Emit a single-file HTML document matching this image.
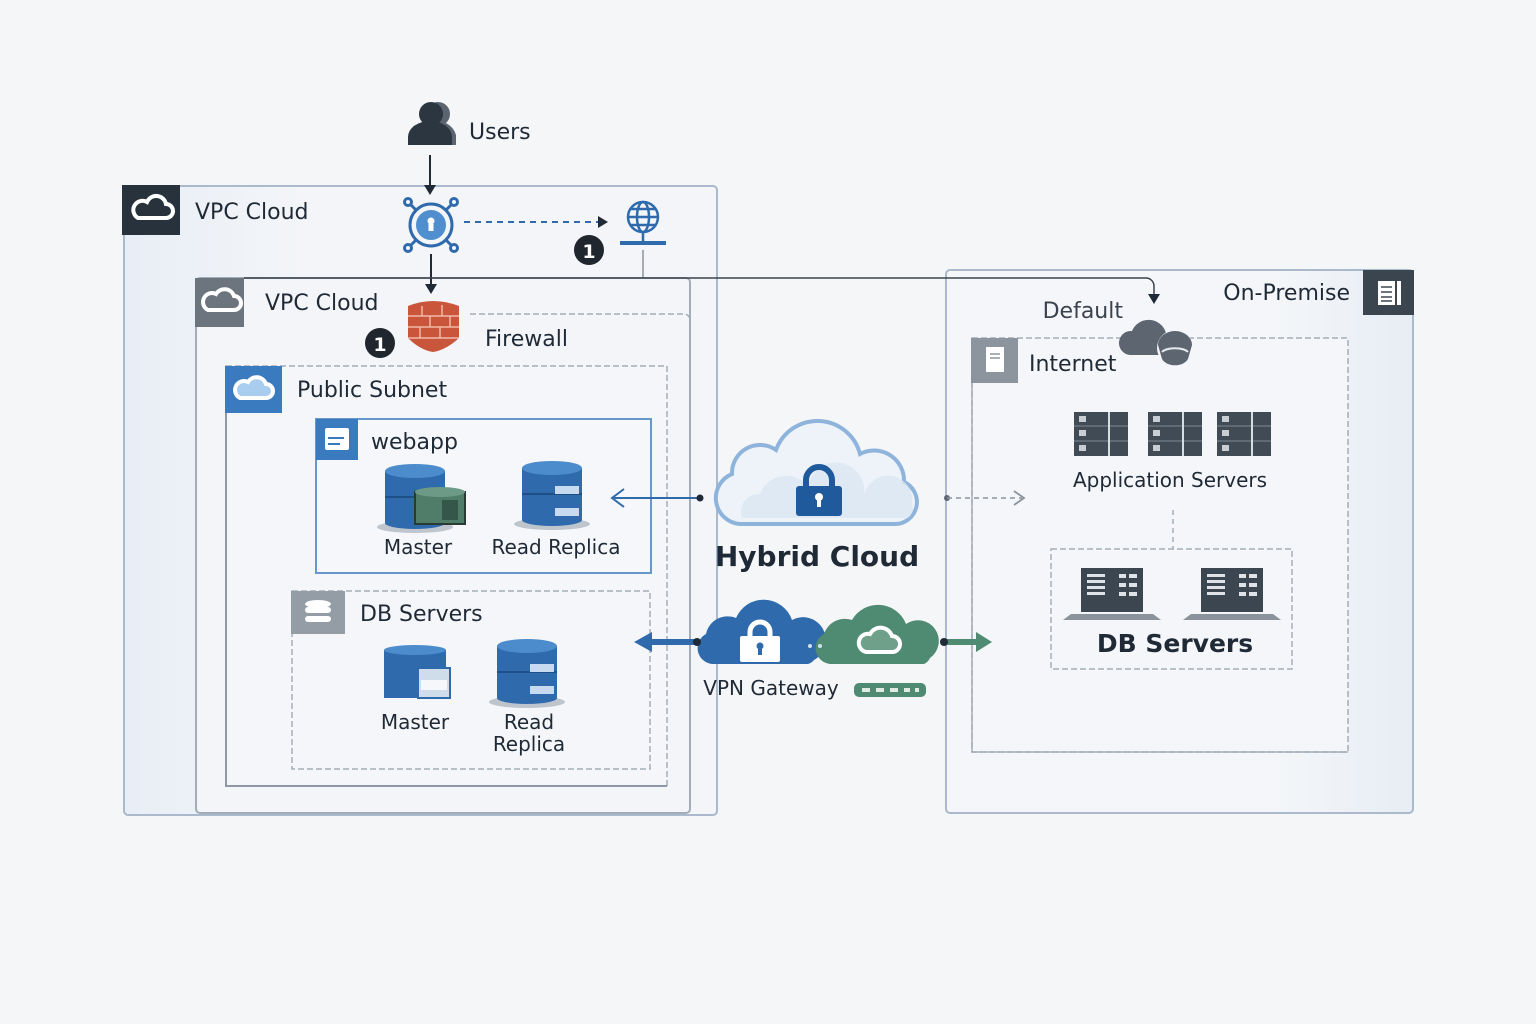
<!DOCTYPE html>
<html><head><meta charset="utf-8"><style>
html,body{margin:0;padding:0;background:#f5f6f8;}
svg{display:block;font-family:"DejaVu Sans","Liberation Sans",sans-serif;}
</style></head><body>
<svg width="1536" height="1024" viewBox="0 0 1536 1024" xmlns="http://www.w3.org/2000/svg">
<defs>
<linearGradient id="bg1" x1="0" y1="0" x2="1" y2="0"><stop offset="0" stop-color="#e8eef6"/><stop offset="0.3" stop-color="#f3f5f8"/></linearGradient>
<linearGradient id="bg2" x1="0" y1="0" x2="1" y2="0"><stop offset="0.7" stop-color="#f4f6f9"/><stop offset="1" stop-color="#e7edf4"/></linearGradient>
<g id="cyl">
<ellipse cx="0" cy="32" rx="38" ry="6" fill="#9aa3ad" opacity="0.6"/>
<rect x="-30" y="-24" width="60" height="52" fill="#2f6aad"/>
<ellipse cx="0" cy="28" rx="30" ry="6" fill="#2f6aad"/>
<line x1="-30" y1="2" x2="30" y2="2" stroke="#1f4f87" stroke-width="2"/>
<ellipse cx="0" cy="-24" rx="30" ry="7" fill="#4d8ccc"/>
</g>
<g id="srv">
<rect x="0" y="0" width="54" height="44" fill="#414b56"/>
<line x1="0" y1="14" x2="54" y2="14" stroke="#5f6a75" stroke-width="2"/>
<line x1="0" y1="29" x2="54" y2="29" stroke="#5f6a75" stroke-width="2"/>
<line x1="35" y1="0" x2="35" y2="44" stroke="#d8dde2" stroke-width="2"/>
<rect x="5" y="4" width="7" height="6" fill="#c9ced4"/><rect x="5" y="18" width="7" height="6" fill="#c9ced4"/><rect x="5" y="33" width="7" height="6" fill="#c9ced4"/>
</g>
<g id="lap">
<path d="M-10,46 L72,46 L80,52 L-18,52z" fill="#8a939c"/>
<rect x="0" y="0" width="62" height="44" fill="#3c4650"/>
<g fill="#dfe3e7"><rect x="6" y="6" width="18" height="3"/><rect x="6" y="12" width="18" height="3"/><rect x="6" y="18" width="18" height="3"/><rect x="6" y="24" width="18" height="3"/><rect x="38" y="6" width="7" height="4"/><rect x="48" y="6" width="8" height="4"/><rect x="38" y="15" width="7" height="4"/><rect x="48" y="15" width="8" height="4"/><rect x="38" y="24" width="7" height="4"/><rect x="48" y="24" width="8" height="4"/></g>
</g>
</defs>
<rect width="1536" height="1024" fill="#f5f6f8"/>

<!-- Outer VPC -->
<rect x="124" y="186" width="593" height="629" rx="4" fill="url(#bg1)" stroke="#aab9cc" stroke-width="2"/>
<rect x="122" y="185" width="58" height="50" fill="#27323d"/>
<path d="M138,218 h28 a7,7 0 0 0 0,-14 a10,10 0 0 0 -19,-2 a8,8 0 0 0 -9,16z" fill="none" stroke="#fff" stroke-width="4"/>
<text x="195" y="219" font-size="22" fill="#1f2a36">VPC Cloud</text>

<!-- Inner VPC -->
<rect x="196" y="278" width="494" height="535" rx="4" fill="#f3f5f8" stroke="#a3adb8" stroke-width="2"/>
<rect x="195" y="278" width="49" height="49" fill="#6c747e"/>
<path d="M208,310 h26 a7,7 0 0 0 0,-14 a10,10 0 0 0 -18,-2 a8,8 0 0 0 -8,16z" fill="none" stroke="#fff" stroke-width="4"/>
<text x="265" y="310" font-size="22" fill="#1f2a36">VPC Cloud</text>
<path d="M470,314 H684 a6,6 0 0 1 6,6" fill="none" stroke="#a3adb8" stroke-width="1.5" stroke-dasharray="6,3"/>
<line x1="643" y1="250" x2="643" y2="278" stroke="#8b949e" stroke-width="1.5"/>

<!-- Public Subnet -->
<path d="M226,366 H667 V786 H226z" fill="#f4f6f9" stroke="#a3adb8" stroke-width="1.5" stroke-dasharray="6,3"/>
<path d="M226,366 V786 H667" fill="none" stroke="#8e99a5" stroke-width="2"/>
<rect x="225" y="366" width="57" height="47" fill="#3a7bc0"/>
<path d="M240,398 h26 a7,7 0 0 0 0,-14 a10,10 0 0 0 -18,-2 a8,8 0 0 0 -8,16z" fill="#a9cdef" stroke="#fff" stroke-width="4"/>
<text x="297" y="397" font-size="22" fill="#1f2a36">Public Subnet</text>

<!-- webapp -->
<rect x="316" y="419" width="335" height="154" fill="#f5f7fa" stroke="#6a97c9" stroke-width="2"/>
<rect x="316" y="419" width="42" height="41" fill="#3a7bc0"/>
<rect x="325" y="428" width="24" height="22" rx="2" fill="#fff"/><line x1="328" y1="438" x2="344" y2="438" stroke="#3a7bc0" stroke-width="2"/><line x1="328" y1="444" x2="340" y2="444" stroke="#3a7bc0" stroke-width="2"/>
<text x="371" y="449" font-size="22" fill="#1f2a36">webapp</text>
<use href="#cyl" transform="translate(415,495)"/>
<rect x="415" y="492" width="50" height="32" fill="#4f7d6a" stroke="#2a3b33" stroke-width="2"/>
<ellipse cx="440" cy="492" rx="25" ry="5" fill="#6c9a86"/>
<rect x="442" y="500" width="16" height="20" fill="#35574a"/>
<use href="#cyl" transform="translate(552,492)"/>
<rect x="555" y="486" width="24" height="8" fill="#c8daf0"/><rect x="555" y="508" width="24" height="8" fill="#c8daf0"/>
<text x="418" y="554" font-size="20" fill="#1f2a36" text-anchor="middle">Master</text>
<text x="556" y="554" font-size="20" fill="#1f2a36" text-anchor="middle">Read Replica</text>

<!-- DB servers left -->
<rect x="292" y="591" width="358" height="178" fill="#f4f6f9" stroke="#a3adb8" stroke-width="1.5" stroke-dasharray="6,3"/>
<rect x="291" y="591" width="54" height="43" fill="#949ca6"/>
<ellipse cx="318" cy="604" rx="13" ry="4" fill="#fff"/><rect x="305" y="607" width="26" height="6" rx="3" fill="#fff"/><rect x="305" y="616" width="26" height="6" rx="3" fill="#fff"/>
<text x="360" y="621" font-size="22" fill="#1f2a36">DB Servers</text>
<rect x="384" y="650" width="62" height="48" fill="#2f6aad"/>
<ellipse cx="415" cy="650" rx="31" ry="5" fill="#4d8ccc"/>
<rect x="418" y="668" width="32" height="30" fill="#cfdcea" stroke="#2f6aad" stroke-width="2"/>
<rect x="421" y="680" width="26" height="10" fill="#f5f7fa"/>
<use href="#cyl" transform="translate(527,670)"/>
<rect x="530" y="664" width="24" height="8" fill="#c8daf0"/><rect x="530" y="686" width="24" height="8" fill="#c8daf0"/>
<text x="415" y="729" font-size="20" fill="#1f2a36" text-anchor="middle">Master</text>
<text x="529" y="729" font-size="20" fill="#1f2a36" text-anchor="middle">Read</text>
<text x="529" y="751" font-size="20" fill="#1f2a36" text-anchor="middle">Replica</text>

<!-- Users -->
<circle cx="438" cy="114" r="12" fill="#5b6570"/><path d="M420,145 a18,18 0 0 1 36,-10 V145z" fill="#5b6570"/>
<circle cx="431" cy="114" r="12" fill="#2c3640"/><path d="M408,145 v-8 a22,16 0 0 1 44,0 v8z" fill="#2c3640"/>
<text x="469" y="139" font-size="22" fill="#1f2a36">Users</text>
<line x1="430" y1="155" x2="430" y2="186" stroke="#1f2a36" stroke-width="2"/>
<path d="M424,185 L430,195 L436,185z" fill="#1f2a36"/>

<!-- gateway icon -->
<g stroke="#2f6aad" stroke-width="3" fill="none">
<circle cx="431" cy="225" r="21"/>
<line x1="416" y1="210" x2="410" y2="204"/><line x1="446" y1="210" x2="452" y2="204"/><line x1="416" y1="240" x2="410" y2="246"/><line x1="446" y1="240" x2="452" y2="246"/>
<circle cx="408" cy="202" r="3.5"/><circle cx="454" cy="202" r="3.5"/><circle cx="408" cy="248" r="3.5"/><circle cx="454" cy="248" r="3.5"/>
</g>
<circle cx="431" cy="225" r="15" fill="#4f8fd0"/>
<circle cx="431" cy="221" r="3.5" fill="#fff"/><rect x="428.5" y="224" width="5" height="7" fill="#fff"/>
<line x1="431" y1="254" x2="431" y2="285" stroke="#1f2a36" stroke-width="2"/>
<path d="M425,284 L431,294 L437,284z" fill="#1f2a36"/>
<line x1="464" y1="222" x2="598" y2="222" stroke="#2f6aad" stroke-width="2" stroke-dasharray="6,5"/>
<path d="M598,216 L608,222 L598,228z" fill="#1f2a36"/>
<!-- globe -->
<g stroke="#2f6aad" stroke-width="2.5" fill="none">
<circle cx="643" cy="217" r="15"/><ellipse cx="643" cy="217" rx="6" ry="15"/><line x1="628" y1="217" x2="658" y2="217"/><line x1="631" y1="209" x2="655" y2="209"/><line x1="631" y1="225" x2="655" y2="225"/><line x1="643" y1="232" x2="643" y2="242"/>
</g>
<line x1="620" y1="243" x2="666" y2="243" stroke="#2f6aad" stroke-width="4"/>
<circle cx="589" cy="250" r="15" fill="#1f262d"/><text x="589" y="258" font-size="19" font-weight="bold" fill="#fff" text-anchor="middle">1</text>

<!-- firewall -->
<path d="M408,306 Q433,296 459,306 V338 Q446,350 433,352 Q420,350 408,338z" fill="#c9563b"/>
<g stroke="#f0b9a8" stroke-width="1.5"><line x1="408" y1="316" x2="459" y2="316"/><line x1="408" y1="327" x2="459" y2="327"/><line x1="408" y1="338" x2="459" y2="338"/><line x1="422" y1="306" x2="422" y2="316"/><line x1="442" y1="305" x2="442" y2="316"/><line x1="430" y1="316" x2="430" y2="327"/><line x1="450" y1="316" x2="450" y2="327"/><line x1="420" y1="327" x2="420" y2="338"/><line x1="440" y1="327" x2="440" y2="338"/></g>
<circle cx="380" cy="343" r="15" fill="#1f262d"/><text x="380" y="351" font-size="19" font-weight="bold" fill="#fff" text-anchor="middle">1</text>
<text x="485" y="346" font-size="22" fill="#1f2a36">Firewall</text>

<!-- On-Premise -->
<rect x="946" y="270" width="467" height="543" rx="4" fill="url(#bg2)" stroke="#aab9cc" stroke-width="2"/>
<rect x="1363" y="270" width="51" height="45" fill="#3b4550"/>
<rect x="1378" y="281" width="17" height="24" fill="#fff"/><rect x="1397" y="281" width="4" height="24" fill="#fff"/>
<g stroke="#3b4550" stroke-width="1.5"><line x1="1381" y1="287" x2="1392" y2="287"/><line x1="1381" y1="292" x2="1392" y2="292"/><line x1="1381" y1="297" x2="1392" y2="297"/><line x1="1381" y1="301" x2="1392" y2="301"/></g>
<text x="1350" y="300" font-size="22" fill="#1f2a36" text-anchor="end">On-Premise</text>
<text x="1123" y="318" font-size="22" fill="#3a434d" text-anchor="end">Default</text>

<!-- long line -->
<path d="M244,278 H1146 a8,8 0 0 1 8,8 V296" fill="none" stroke="#3a434d" stroke-width="1.5"/>
<path d="M1148,294 L1154,304 L1160,294z" fill="#1f2a36"/>

<!-- Internet -->
<rect x="972" y="338" width="376" height="414" fill="#f4f6f9" stroke="#a3adb8" stroke-width="1.5" stroke-dasharray="6,3"/>
<path d="M972,338 V752 H1348" fill="none" stroke="#a3adb8" stroke-width="1.5"/>
<rect x="971" y="338" width="47" height="45" fill="#8c949d"/>
<rect x="986" y="347" width="18" height="25" fill="#fff"/><line x1="990" y1="354" x2="1000" y2="354" stroke="#8c949d" stroke-width="1.5"/><line x1="990" y1="358" x2="1000" y2="358" stroke="#8c949d" stroke-width="1.5"/>
<text x="1029" y="371" font-size="22" fill="#1f2a36">Internet</text>
<path d="M1130,355 a12,12 0 0 1 2,-24 a18,18 0 0 1 34,2 a12,12 0 0 1 10,22z" fill="#5d6670"/>
<circle cx="1175" cy="348" r="18" fill="#f4f6f9"/>
<path d="M1158,345 a17,14 0 0 1 34,0 l-4,14 a14,10 0 0 1 -26,0z" fill="#5d6670"/>
<path d="M1162,352 a14,6 0 0 1 26,0" fill="none" stroke="#e6e9ec" stroke-width="2"/>
<use href="#srv" transform="translate(1074,412)"/>
<use href="#srv" transform="translate(1148,412)"/>
<use href="#srv" transform="translate(1217,412)"/>
<text x="1170" y="487" font-size="20" fill="#1f2a36" text-anchor="middle">Application Servers</text>
<line x1="1173" y1="510" x2="1173" y2="549" stroke="#a3adb8" stroke-width="1.5" stroke-dasharray="5,4"/>
<rect x="1051" y="549" width="241" height="120" fill="#f4f6f9" stroke="#a3adb8" stroke-width="1.5" stroke-dasharray="6,3"/>
<use href="#lap" transform="translate(1081,568)"/>
<use href="#lap" transform="translate(1201,568)"/>
<text x="1175" y="652" font-size="25" font-weight="bold" fill="#1f2a36" text-anchor="middle">DB Servers</text>

<!-- Hybrid Cloud -->
<path d="M740,524 a26,26 0 0 1 -8,-50 a28,28 0 0 1 44,-24 a44,44 0 0 1 84,4 a30,30 0 0 1 44,28 a22,22 0 0 1 -8,42z" fill="#eef3f9" stroke="#8fb4db" stroke-width="4"/>
<path d="M742,518 a18,18 0 0 1 18,-24 a28,28 0 0 1 48,-8 a26,26 0 0 1 56,10 a18,18 0 0 1 48,8 a12,12 0 0 1 -4,14z" fill="#dbe6f2" opacity="0.8"/>
<path d="M806,488 v-8 a13,13 0 0 1 26,0 v8" fill="none" stroke="#1f5a9c" stroke-width="6"/>
<rect x="796" y="486" width="46" height="30" rx="3" fill="#1f5a9c"/>
<circle cx="819" cy="497" r="4" fill="#fff"/><rect x="817" y="499" width="4" height="8" fill="#fff"/>
<text x="817" y="566" font-size="28" font-weight="bold" fill="#1f2a36" text-anchor="middle">Hybrid Cloud</text>
<line x1="700" y1="498" x2="614" y2="498" stroke="#2f6aad" stroke-width="2"/>
<circle cx="700" cy="498" r="3.5" fill="#1f2a36"/>
<path d="M624,489 L612,498 L624,507" fill="none" stroke="#2f6aad" stroke-width="2"/>
<circle cx="947" cy="498" r="3" fill="#5d6670"/>
<line x1="947" y1="498" x2="1022" y2="498" stroke="#8c949d" stroke-width="1.5" stroke-dasharray="5,4"/>
<path d="M1014,491 L1024,498 L1014,505" fill="none" stroke="#8c949d" stroke-width="1.8"/>

<!-- VPN -->
<path d="M712,664 a16,16 0 0 1 -6,-30 a22,22 0 0 1 30,-16 a30,30 0 0 1 56,2 a22,22 0 0 1 22,40 a12,12 0 0 1 -6,4z" fill="#2f6aad"/>
<path d="M750,638 v-6 a10,10 0 0 1 20,0 v6" fill="none" stroke="#fff" stroke-width="5"/>
<rect x="740" y="636" width="40" height="26" rx="2" fill="#fff"/>
<circle cx="760" cy="646" r="3.5" fill="#2f6aad"/><rect x="758" y="648" width="4" height="7" fill="#2f6aad"/>
<path d="M830,664 a16,16 0 0 1 -6,-30 a22,22 0 0 1 28,-14 a30,30 0 0 1 54,4 a20,20 0 0 1 24,34 a12,12 0 0 1 -6,6z" fill="#4f8a72"/>
<path d="M866,652 h26 a8,8 0 0 0 0,-16 a12,12 0 0 0 -22,-2 a9,9 0 0 0 -4,18z" fill="#6fa08a" stroke="#fff" stroke-width="4"/>
<circle cx="810" cy="646" r="2" fill="#cfe0ee"/><circle cx="820" cy="646" r="2" fill="#cfe0ee"/>
<line x1="696" y1="642" x2="650" y2="642" stroke="#2f6aad" stroke-width="6"/>
<path d="M652,632 L634,642 L652,652z" fill="#2f6aad"/>
<circle cx="697" cy="642" r="4" fill="#1f2a36"/>
<line x1="944" y1="642" x2="978" y2="642" stroke="#4f8a72" stroke-width="6"/>
<path d="M976,632 L992,642 L976,652z" fill="#4f8a72"/>
<circle cx="944" cy="642" r="4" fill="#1f2a36"/>
<text x="771" y="695" font-size="20" fill="#1f2a36" text-anchor="middle">VPN Gateway</text>
<rect x="854" y="683" width="72" height="14" rx="5" fill="#4f8a72"/>
<g fill="#dfeae4"><rect x="862" y="688" width="8" height="4"/><rect x="876" y="688" width="8" height="4"/><rect x="890" y="688" width="8" height="4"/><rect x="904" y="688" width="6" height="4"/><rect x="915" y="688" width="4" height="4"/></g>
</svg>
</body></html>
